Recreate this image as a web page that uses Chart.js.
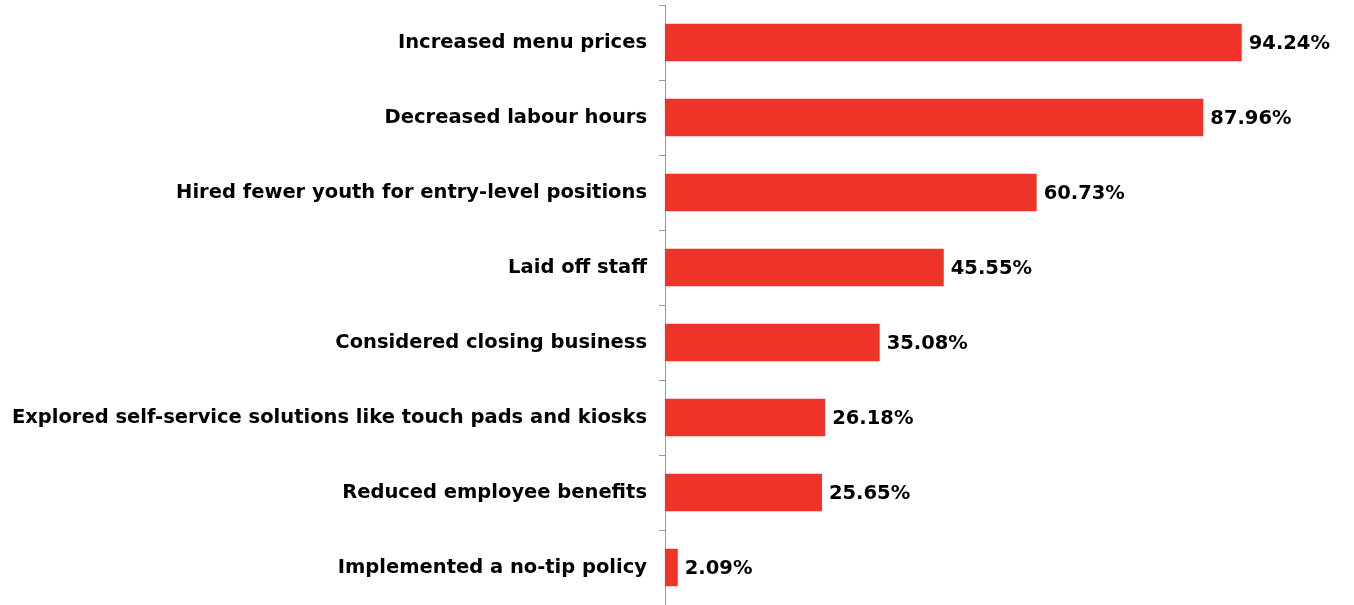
<!DOCTYPE html>
<html lang="en">
  <head>
    <meta charset="utf-8" />
    <script src="https://cdn.jsdelivr.net/npm/chart.js@4"></script>
    <title>Chart</title>
    <style>
      html, body { margin: 0; padding: 0; background: #fff; }
      #wrap { width: 1354px; height: 605px; }
    </style>
  </head>
  <body>
    <div id="wrap"><canvas id="chart"></canvas></div>
    <script>
      const categories = [
        'Increased menu prices',
        'Decreased labour hours',
        'Hired fewer youth for entry-level positions',
        'Laid off staff',
        'Considered closing business',
        'Explored self-service solutions like touch pads and kiosks',
        'Reduced employee benefits',
        'Implemented a no-tip policy'
      ];
      const percentages = [94.24, 87.96, 60.73, 45.55, 35.08, 26.18, 25.65, 2.09];

      const FONT = "'DejaVu Sans', Verdana, sans-serif";
      const FONT_SIZE = 19.5;

      // writes the value next to each bar
      const valueLabels = {
        id: 'valueLabels',
        afterDatasetsDraw(chart) {
          const ctx = chart.ctx;
          const meta = chart.getDatasetMeta(0);
          ctx.save();
          ctx.font = 'bold ' + FONT_SIZE + 'px ' + FONT;
          ctx.fillStyle = '#000';
          ctx.textBaseline = 'middle';
          ctx.textAlign = 'left';
          meta.data.forEach((bar, i) => {
            ctx.fillText(percentages[i].toFixed(2) + '%', bar.x + 7, bar.y + 1);
          });
          ctx.restore();
        }
      };

      const ctx = document.getElementById('chart').getContext('2d');
      new Chart(ctx, {
        type: 'bar',
        data: {
          labels: categories,
          datasets: [{
            data: percentages,
            backgroundColor: '#EE3329',
            borderWidth: 0,
            categoryPercentage: 1.0,
            barPercentage: 0.5
          }]
        },
        options: {
          indexAxis: 'y',
          responsive: true,
          maintainAspectRatio: false,
          animation: false,
          layout: { padding: { top: 5, right: 77, bottom: 0, left: 0 } },
          plugins: {
            legend: { display: false },
            tooltip: { enabled: false }
          },
          scales: {
            x: {
              display: false,
              min: 0,
              max: 100
            },
            y: {
              afterFit(scale) {
                scale.width = 665;
                scale.paddingTop = 0;
                scale.paddingBottom = 0;
              },
              border: { display: true, color: '#999', width: 1 },
              grid: {
                display: true,
                drawOnChartArea: false,
                drawTicks: true,
                tickLength: 6,
                color: '#999',
                offset: true
              },
              ticks: {
                color: '#000',
                padding: 12,
                font: { family: FONT, size: FONT_SIZE, weight: 'bold' }
              }
            }
          }
        },
        plugins: [valueLabels]
      });
    </script>
  </body>
</html>
